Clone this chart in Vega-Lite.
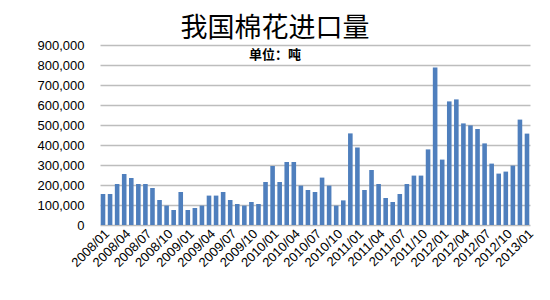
{
  "$schema": "https://vega.github.io/schema/vega-lite/v6.json",
  "width": 430,
  "height": 180,
  "autosize": {"type": "none"},
  "padding": {"left": 100, "top": 45, "right": 20, "bottom": 75},
  "background": "#ffffff",
  "title": {
    "text": "我国棉花进口量",
    "subtitle": "单位：吨",
    "anchor": "middle",
    "dx": -40,
    "offset": -24,
    "font": "Noto Sans CJK SC",
    "fontSize": 27,
    "fontWeight": "normal",
    "color": "#000000",
    "subtitleFont": "Noto Sans CJK SC",
    "subtitleFontSize": 13,
    "subtitleFontWeight": "bold",
    "subtitleColor": "#000000",
    "subtitlePadding": 6
  },
  "data": {
    "values": [
      {"month": "2008/01", "tons": 155000},
      {"month": "2008/02", "tons": 155000},
      {"month": "2008/03", "tons": 205000},
      {"month": "2008/04", "tons": 255000},
      {"month": "2008/05", "tons": 235000},
      {"month": "2008/06", "tons": 205000},
      {"month": "2008/07", "tons": 205000},
      {"month": "2008/08", "tons": 185000},
      {"month": "2008/09", "tons": 125000},
      {"month": "2008/10", "tons": 97000},
      {"month": "2008/11", "tons": 75000},
      {"month": "2008/12", "tons": 165000},
      {"month": "2009/01", "tons": 75000},
      {"month": "2009/02", "tons": 85000},
      {"month": "2009/03", "tons": 97000},
      {"month": "2009/04", "tons": 147000},
      {"month": "2009/05", "tons": 147000},
      {"month": "2009/06", "tons": 165000},
      {"month": "2009/07", "tons": 125000},
      {"month": "2009/08", "tons": 105000},
      {"month": "2009/09", "tons": 97000},
      {"month": "2009/10", "tons": 115000},
      {"month": "2009/11", "tons": 105000},
      {"month": "2009/12", "tons": 215000},
      {"month": "2010/01", "tons": 295000},
      {"month": "2010/02", "tons": 215000},
      {"month": "2010/03", "tons": 315000},
      {"month": "2010/04", "tons": 315000},
      {"month": "2010/05", "tons": 197000},
      {"month": "2010/06", "tons": 175000},
      {"month": "2010/07", "tons": 165000},
      {"month": "2010/08", "tons": 237000},
      {"month": "2010/09", "tons": 197000},
      {"month": "2010/10", "tons": 97000},
      {"month": "2010/11", "tons": 123000},
      {"month": "2010/12", "tons": 458000},
      {"month": "2011/01", "tons": 388000},
      {"month": "2011/02", "tons": 175000},
      {"month": "2011/03", "tons": 275000},
      {"month": "2011/04", "tons": 205000},
      {"month": "2011/05", "tons": 135000},
      {"month": "2011/06", "tons": 115000},
      {"month": "2011/07", "tons": 155000},
      {"month": "2011/08", "tons": 205000},
      {"month": "2011/09", "tons": 247000},
      {"month": "2011/10", "tons": 247000},
      {"month": "2011/11", "tons": 378000},
      {"month": "2011/12", "tons": 788000},
      {"month": "2012/01", "tons": 327000},
      {"month": "2012/02", "tons": 618000},
      {"month": "2012/03", "tons": 628000},
      {"month": "2012/04", "tons": 508000},
      {"month": "2012/05", "tons": 498000},
      {"month": "2012/06", "tons": 480000},
      {"month": "2012/07", "tons": 408000},
      {"month": "2012/08", "tons": 307000},
      {"month": "2012/09", "tons": 257000},
      {"month": "2012/10", "tons": 267000},
      {"month": "2012/11", "tons": 297000},
      {"month": "2012/12", "tons": 527000},
      {"month": "2013/01", "tons": 457000}
    ]
  },
  "mark": {"type": "bar", "color": "#4f7fbd"},
  "encoding": {
    "x": {
      "field": "month",
      "type": "ordinal",
      "sort": null,
      "scale": {"paddingInner": 0.35, "paddingOuter": 0.1},
      "axis": {
        "title": null,
        "values": ["2008/01","2008/04","2008/07","2008/10","2009/01","2009/04","2009/07","2009/10","2010/01","2010/04","2010/07","2010/10","2011/01","2011/04","2011/07","2011/10","2012/01","2012/04","2012/07","2012/10","2013/01"],
        "labelAngle": -45,
        "labelAlign": "right",
        "labelBaseline": "top",
        "labelFont": "Liberation Sans",
        "labelFontSize": 13,
        "labelColor": "#000000",
        "labelPadding": 2,
        "ticks": false,
        "domain": false,
        "grid": false
      }
    },
    "y": {
      "field": "tons",
      "type": "quantitative",
      "scale": {"domain": [0, 900000], "nice": false},
      "axis": {
        "title": null,
        "values": [0,100000,200000,300000,400000,500000,600000,700000,800000,900000],
        "format": ",d",
        "labelFont": "Liberation Sans",
        "labelFontSize": 13,
        "labelColor": "#000000",
        "labelPadding": 16,
        "ticks": false,
        "domain": false,
        "grid": true,
        "gridColor": "#bdbdbd",
        "gridWidth": 1.5
      }
    }
  },
  "config": {"view": {"stroke": null}}
}
